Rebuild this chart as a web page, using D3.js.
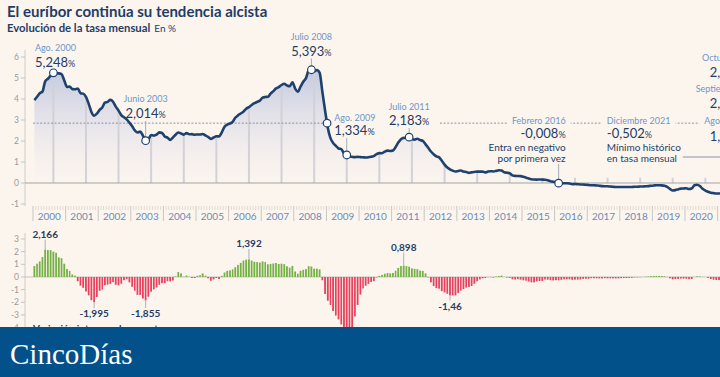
<!DOCTYPE html>
<html><head><meta charset="utf-8">
<script src="https://cdn.jsdelivr.net/npm/d3@7"></script>
<style>
html,body{margin:0;padding:0;background:#fcf5ee;overflow:hidden;width:720px;height:377px}
svg{display:block}
text{font-family:Lato,"Open Sans",sans-serif}
text.logo{font-family:"Liberation Serif","DejaVu Serif",serif}
</style></head><body><svg id="c" width="720" height="377"></svg>
<script>
// ---------- DATA ----------
// Euríbor a 12 meses, media mensual (%), enero 2000 – octubre 2022
const euribor = [
 3.949,4.109,4.273,4.352,4.838,4.964,5.110,5.248,5.220,5.222,5.184,4.880,
 4.576,4.591,4.471,4.464,4.502,4.275,4.256,4.100,3.769,3.384,3.203,3.300,
 3.481,3.594,3.823,3.863,3.958,3.867,3.640,3.445,3.235,3.130,3.029,2.872,
 2.706,2.502,2.408,2.446,2.254,2.014,2.078,2.279,2.258,2.303,2.410,2.381,
 2.216,2.163,2.055,2.163,2.297,2.404,2.361,2.302,2.377,2.321,2.328,2.301,
 2.312,2.310,2.335,2.265,2.193,2.103,2.168,2.223,2.220,2.414,2.684,2.783,
 2.833,2.914,3.105,3.221,3.308,3.400,3.539,3.615,3.715,3.799,3.864,3.921,
 4.064,4.094,4.106,4.253,4.373,4.505,4.564,4.666,4.725,4.647,4.607,4.793,
 4.498,4.349,4.590,4.820,4.994,5.361,5.393,5.323,5.384,5.248,4.350,3.452,
 2.622,2.135,1.909,1.771,1.644,1.610,1.412,1.334,1.261,1.243,1.231,1.242,
 1.232,1.225,1.215,1.225,1.249,1.281,1.373,1.421,1.420,1.495,1.541,1.526,
 1.550,1.714,1.924,2.086,2.147,2.144,2.183,2.097,2.067,2.110,2.044,2.004,
 1.837,1.678,1.499,1.368,1.266,1.219,1.061,0.877,0.740,0.650,0.588,0.549,
 0.575,0.594,0.545,0.528,0.484,0.507,0.525,0.542,0.543,0.541,0.506,0.543,
 0.562,0.549,0.577,0.604,0.592,0.513,0.488,0.469,0.362,0.338,0.335,0.329,
 0.298,0.255,0.212,0.180,0.165,0.163,0.167,0.161,0.154,0.128,0.079,0.059,
 0.042,-0.008,-0.012,-0.010,-0.013,-0.028,-0.056,-0.048,-0.057,-0.069,-0.074,-0.080,
 -0.095,-0.106,-0.110,-0.119,-0.127,-0.149,-0.154,-0.156,-0.168,-0.180,-0.189,-0.190,
 -0.189,-0.191,-0.191,-0.190,-0.188,-0.181,-0.180,-0.169,-0.166,-0.154,-0.147,-0.129,
 -0.116,-0.108,-0.109,-0.112,-0.134,-0.190,-0.283,-0.356,-0.339,-0.304,-0.267,-0.261,
 -0.253,-0.288,-0.266,-0.108,-0.081,-0.147,-0.279,-0.359,-0.415,-0.466,-0.481,-0.497,
 -0.497,-0.501,-0.487,-0.484,-0.481,-0.484,-0.491,-0.498,-0.492,-0.477,-0.487,-0.502,
 -0.477,-0.335,-0.237,0.013,0.287,0.852,0.992,1.249,2.233,2.629
];
// Variación interanual (puntos)
const variacion = [
 0.862,1.048,1.225,1.573,2.166,2.125,2.116,2.002,1.914,1.544,1.486,1.047,
 0.627,0.482,0.198,0.112,-0.336,-0.689,-0.854,-1.148,-1.451,-1.838,-1.995,-1.580,
 -1.095,-0.997,-0.648,-0.601,-0.544,-0.408,-0.616,-0.655,-0.534,-0.254,-0.174,-0.428,
 -0.775,-1.092,-1.415,-1.417,-1.704,-1.855,-1.562,-1.166,-0.977,-0.827,-0.619,-0.491,
 -0.490,-0.339,-0.353,-0.283,0.043,0.390,0.283,0.023,0.119,0.018,-0.082,-0.080,
 0.096,0.147,0.280,0.102,-0.104,-0.301,-0.193,-0.079,-0.157,0.093,0.356,0.482,
 0.521,0.604,0.770,0.956,1.115,1.297,1.371,1.392,1.300,1.200,1.180,1.138,
 1.231,1.180,1.001,1.032,1.065,1.105,1.025,1.051,1.010,0.848,0.743,0.872,
 0.434,0.255,0.484,0.567,0.621,0.856,0.829,0.657,0.659,0.601,-0.257,-1.341,
 -1.876,-2.214,-2.681,-3.049,-3.350,-3.751,-3.981,-3.989,-4.123,-4.005,-3.119,-2.210,
 -1.390,-0.910,-0.694,-0.546,-0.395,-0.329,-0.039,0.087,0.159,0.252,0.310,0.284,
 0.318,0.489,0.709,0.861,0.898,0.863,0.810,0.676,0.647,0.615,0.503,0.478,
 0.287,-0.036,-0.425,-0.718,-0.881,-0.925,-1.122,-1.220,-1.327,-1.460,-1.456,-1.455,
 -1.262,-1.084,-0.954,-0.840,-0.782,-0.712,-0.536,-0.335,-0.197,-0.109,-0.082,-0.006,
 -0.013,-0.045,0.032,0.076,0.108,0.006,-0.037,-0.073,-0.181,-0.203,-0.171,-0.214,
 -0.264,-0.294,-0.365,-0.424,-0.427,-0.350,-0.321,-0.308,-0.208,-0.210,-0.256,-0.270,
 -0.256,-0.263,-0.224,-0.190,-0.178,-0.191,-0.223,-0.209,-0.211,-0.197,-0.153,-0.139,
 -0.137,-0.098,-0.098,-0.109,-0.114,-0.121,-0.098,-0.108,-0.111,-0.111,-0.115,-0.110,
 -0.094,-0.085,-0.081,-0.071,-0.061,-0.032,-0.026,-0.013,0.002,0.026,0.042,0.061,
 0.073,0.083,0.082,0.078,0.054,-0.009,-0.103,-0.187,-0.173,-0.150,-0.120,-0.132,
 -0.137,-0.180,-0.157,0.004,0.053,0.043,0.004,-0.003,-0.076,-0.162,-0.214,-0.236,
 -0.244,-0.213,-0.221,-0.376,-0.400,-0.337,-0.212,-0.139,-0.077,-0.011,-0.006,-0.005,
 0.028,0.166,0.250,0.497,0.768,1.336,1.483,1.747,2.725,3.106
];
const yearLabels = ["2000","2001","2002","2003","2004","2005","2006","2007","2008","2009","2010","2011",
  "2012","2013","2014","2015","2016","2017","2018","2019","2020","2021","2022"];
const yTicksTop = [6,5,4,3,2,1,0,-1];
const yTicksBot = [3,2,1,0,-1,-2,-3,-4];
const refLevel = 2.85;
const topAnnots = [
 {date:"2000-08", mes:"Ago. 2000", valor:"5,248"},
 {date:"2003-06", mes:"Junio 2003", valor:"2,014"},
 {date:"2008-07", mes:"Julio 2008", valor:"5,393"},
 {date:"2009-08", mes:"Ago. 2009", valor:"1,334"},
 {date:"2011-07", mes:"Julio 2011", valor:"2,183"},
 {date:"2016-02", mes:"Febrero 2016", valor:"-0,008", nota:["Entra en negativo","por primera vez"]},
 {date:"2021-12", mes:"Diciembre 2021", valor:"-0,502", nota:["Mínimo histórico","en tasa mensual"]},
 {date:"2022-08", mes:"Agosto 2022", valor:"1,249"},
 {date:"2022-09", mes:"Septiembre 2022", valor:"2,233"},
 {date:"2022-10", mes:"Octubre 2022", valor:"2,629"}
];
const botAnnots = [
 {date:"2000-05", valor:"2,166"},
 {date:"2001-11", valor:"-1,995"},
 {date:"2003-06", valor:"-1,855"},
 {date:"2006-08", valor:"1,392"},
 {date:"2011-05", valor:"0,898"},
 {date:"2012-10", valor:"-1,46"}
];

// ---------- LAYOUT / STYLE ----------
const W=720,H=377;
const bg="#fcf5ee", navy="#1f3d66", curveCol="#1f416d", mesCol="#6f95c8";
const svg=d3.select("#c");
svg.append("rect").attr("width",W).attr("height",H).attr("fill",bg);

svg.append("text").attr("x",7).attr("y",17).attr("font-size",15).attr("font-weight",700)
  .attr("fill",navy).text("El euríbor continúa su tendencia alcista");
const sub=svg.append("text").attr("x",7).attr("y",32).attr("font-size",11.3).attr("fill",navy);
sub.append("tspan").attr("font-weight",700).text("Evolución de la tasa mensual");
sub.append("tspan").attr("dx",4).attr("font-size",10).text("En %");

const dates = euribor.map((_,i)=>new Date(2000,i,1));
const x = d3.scaleTime().domain([new Date(2000,0,1),new Date(2023,0,1)]).range([33,33+23*32.6]);
const xm = d => (x(d)+x(d3.timeMonth.offset(d,1)))/2;
const parse = s => { const [yy,mm]=s.split("-").map(Number); return new Date(yy,mm-1,1); };
const idxOf = s => { const d=parse(s); return (d.getFullYear()-2000)*12+d.getMonth(); };

const yT = d3.scaleLinear().domain([-1,6]).range([204,57]);
const yB = d3.scaleLinear().domain([-4,3]).range([327.6,239]);

const defs=svg.append("defs");
const grad=defs.append("linearGradient").attr("id","ag").attr("gradientUnits","userSpaceOnUse")
  .attr("x1",0).attr("x2",0).attr("y1",yT(5.4)).attr("y2",yT(0));
grad.append("stop").attr("offset",0).attr("stop-color","#bfc6df").attr("stop-opacity",0.95);
grad.append("stop").attr("offset",1).attr("stop-color","#f6eff0").attr("stop-opacity",0.2);

// ---- top axes
const gTop=svg.append("g");
gTop.append("line").attr("x1",25).attr("x2",25).attr("y1",50).attr("y2",206).attr("stroke","#cfcaca");
yTicksTop.forEach(v=>{
  gTop.append("line").attr("x1",21).attr("x2",25).attr("y1",yT(v)).attr("y2",yT(v)).attr("stroke","#c6c2c2");
  gTop.append("text").attr("x",19).attr("y",yT(v)).attr("dy","0.35em").attr("text-anchor","end")
    .attr("font-size",8.5).attr("fill","#9a9a9a").text(v);
});
d3.timeMonth.range(new Date(2000,0,1),new Date(2023,0,1)).forEach(d=>{
  const isYear=d.getMonth()===0;
  gTop.append("line").attr("x1",x(d)).attr("x2",x(d)).attr("y1",206).attr("y2",isYear?221:210)
    .attr("stroke",isYear?"#c9c6c6":"#d9cfca").attr("stroke-width",isYear?1:0.7);
});
yearLabels.forEach((t)=>{
  const a=new Date(+t,0,1), b=new Date(+t+1,0,1);
  gTop.append("text").attr("x",(x(a)+x(b))/2).attr("y",219.5).attr("text-anchor","middle")
    .attr("font-size",10).attr("fill","#6c8cb4").text(t);
});

gTop.append("path").datum(euribor).attr("fill","url(#ag)")
  .attr("d",d3.area().x((v,i)=>xm(dates[i])).y0(yT(0)).y1(v=>yT(Math.max(v,0))).curve(d3.curveMonotoneX));
yearLabels.forEach((t,k)=>{
  const i=k*12+7; if(i>=euribor.length) return;
  const v=euribor[i];
  gTop.append("line").attr("x1",xm(dates[i])).attr("x2",xm(dates[i]))
    .attr("y1",yT(Math.max(v,0.25))).attr("y2",yT(0)).attr("stroke","#d2d1d8").attr("stroke-width",2);
});
gTop.append("line").attr("x1",25).attr("x2",W).attr("y1",yT(0)).attr("y2",yT(0)).attr("stroke","#a3a3a8").attr("stroke-width",1);

let cross=null;
for(let i=100;i<120;i++){ if(euribor[i]>=refLevel && euribor[i+1]<refLevel){
  const f=(euribor[i]-refLevel)/(euribor[i]-euribor[i+1]);
  cross=xm(dates[i])+f*(xm(dates[i+1])-xm(dates[i])); break; } }
const dashG=gTop.append("g");
dashG.append("line").attr("x1",33).attr("x2",cross).attr("y1",yT(refLevel)).attr("y2",yT(refLevel))
  .attr("stroke","#7d8aa5").attr("stroke-dasharray","2,1.6").attr("stroke-width",0.9);
dashG.append("line").attr("x1",440).attr("x2",W+80).attr("y1",yT(refLevel)).attr("y2",yT(refLevel))
  .attr("stroke","#7d8aa5").attr("stroke-dasharray","2,1.6").attr("stroke-width",0.9);

gTop.append("path").datum(euribor).attr("fill","none").attr("stroke",curveCol).attr("stroke-width",2.6)
  .attr("stroke-linejoin","round")
  .attr("d",d3.line().x((v,i)=>xm(dates[i])).y(v=>yT(v)).curve(d3.curveMonotoneX));

const lay = [
 {anchor:"start", dx:-18.5, yMes:50.5, yVal:66.5},
 {anchor:"middle", dx:0, yMes:102, yVal:117.5, lead:121},
 {anchor:"middle", dx:0, yMes:40, yVal:55.5, lead:58.5},
 {anchor:"start", dx:-12.5, yMes:120.5, yVal:134.5, lead:138},
 {anchor:"middle", dx:0, yMes:109.5, yVal:124.5, lead:128},
 {anchor:"end", dx:7, yMes:123.5, yVal:137.5, lead:164, bgbox:true},
 {anchor:"start", dx:-142, yMes:123.5, yVal:137.5, hlead:157, bgbox:true},
 {anchor:"middle", dx:-40.7, yMes:123.5, yVal:140.5, bgbox:true},
 {anchor:"middle", dx:-43.4, yMes:92, yVal:108},
 {anchor:"middle", dx:-46, yMes:60.5, yVal:76.5}
];
const annG=gTop.append("g");
topAnnots.forEach((a,k)=>{
  const L=lay[k], i=idxOf(a.date), px=xm(dates[i]), py=yT(euribor[i]);
  const tx=px+L.dx;
  const mes=annG.append("text").attr("x",tx).attr("y",L.yMes).attr("text-anchor",L.anchor)
    .attr("font-size",9).attr("fill",mesCol).text(a.mes);
  if(L.bgbox){
    const bb=mes.node().getBBox();
    annG.insert("rect",":first-child").attr("x",bb.x-5).attr("y",bb.y).attr("width",bb.width+10).attr("height",bb.height).attr("fill",bg);
  }
  const v=annG.append("text").attr("x",tx).attr("y",L.yVal).attr("text-anchor",L.anchor).attr("fill",navy);
  v.append("tspan").attr("font-size",13).text(a.valor);
  v.append("tspan").attr("font-size",9).text("%");
  if(a.nota) a.nota.forEach((n,j)=>{
    annG.append("text").attr("x",tx).attr("y",L.yVal+13+j*11).attr("text-anchor",L.anchor)
      .attr("font-size",10).attr("fill",navy).text(n);
  });
  if(L.lead) annG.append("line").attr("x1",px).attr("x2",px).attr("y1",L.lead).attr("y2",py-4)
      .attr("stroke","#9ba3b3").attr("stroke-width",0.9);
  if(L.hlead){
    annG.append("path").attr("d",`M${tx+76},${L.hlead}H${px}V${py-4}`).attr("fill","none")
      .attr("stroke","#7d8aa5").attr("stroke-width",0.9);
  }
  if(k<7) annG.append("circle").attr("cx",px).attr("cy",py).attr("r",3.8)
     .attr("fill","#ffffff").attr("stroke",curveCol).attr("stroke-width",1.2);
});
annG.append("circle").attr("cx",cross).attr("cy",yT(refLevel)).attr("r",3.8)
  .attr("fill","#ffffff").attr("stroke",curveCol).attr("stroke-width",1.2);

// ---- bottom chart
const gBot=svg.append("g");
gBot.append("line").attr("x1",25).attr("x2",25).attr("y1",233).attr("y2",330).attr("stroke","#cfcaca");
yTicksBot.forEach(v=>{
  gBot.append("line").attr("x1",21).attr("x2",25).attr("y1",yB(v)).attr("y2",yB(v)).attr("stroke","#c6c2c2");
  gBot.append("text").attr("x",19).attr("y",yB(v)).attr("dy","0.35em").attr("text-anchor","end")
    .attr("font-size",8.5).attr("fill","#9a9a9a").text(v);
});
gBot.append("line").attr("x1",25).attr("x2",W).attr("y1",yB(0)).attr("y2",yB(0)).attr("stroke","#b9b6b6").attr("stroke-width",0.8);
gBot.selectAll("rect.bar").data(variacion).join("rect").attr("class","bar")
  .attr("x",(v,i)=>x(dates[i])+0.45)
  .attr("width",(v,i)=>x(d3.timeMonth.offset(dates[i],1))-x(dates[i])-0.95)
  .attr("y",v=>yB(Math.max(v,0)))
  .attr("height",v=>Math.abs(yB(v)-yB(0)))
  .attr("fill",v=>v>=0?"#74b044":"#e6415d");
const blay=[{y:237.5},{y:317},{y:317},{y:247},{y:250.5},{y:309.5}];
botAnnots.forEach((a,k)=>{
  const i=idxOf(a.date), px=xm(dates[i]), v=variacion[i], py=yB(v);
  const ty=blay[k].y;
  gBot.append("text").attr("x",px).attr("y",ty).attr("text-anchor","middle").attr("font-size",10)
    .attr("font-weight",700).attr("fill",navy).text(a.valor);
  if(v>0) gBot.append("line").attr("x1",px).attr("x2",px).attr("y1",ty+2).attr("y2",py)
     .attr("stroke","#a4a8b4").attr("stroke-width",0.9);
  else gBot.append("line").attr("x1",px).attr("x2",px).attr("y1",py).attr("y2",ty-9)
     .attr("stroke","#a4a8b4").attr("stroke-width",0.9);
});
gBot.append("text").attr("x",33).attr("y",331.5).attr("font-size",10).attr("font-weight",700)
  .attr("fill",navy).text("Variación interanual en puntos");

svg.append("rect").attr("x",0).attr("y",327).attr("width",W).attr("height",50).attr("fill","#03518a");
svg.append("text").attr("class","logo").attr("x",10).attr("y",364)
  .attr("font-size",29).attr("fill","#ffffff").text("CincoDías");
</script></body></html>
